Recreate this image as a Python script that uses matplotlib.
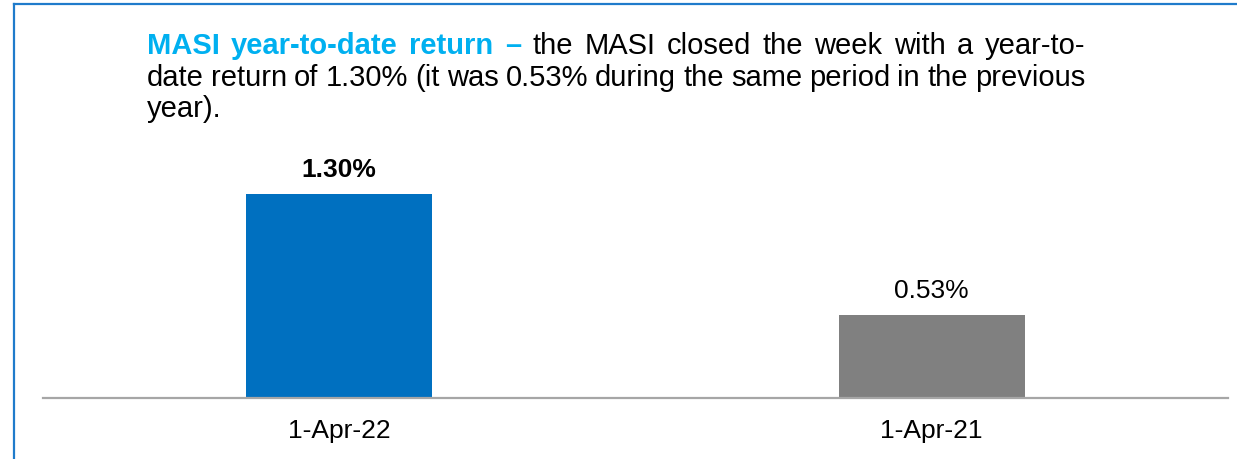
import matplotlib.pyplot as plt
from matplotlib.lines import Line2D

plt.rcParams['font.family'] = ['Liberation Sans', 'DejaVu Sans']

# data
dates = ["1-Apr-22", "1-Apr-21"]
ytd_return = [1.30, 0.53]
bar_colors = ["#0070C0", "#808080"]
label_weights = ["bold", "normal"]

title_bold = "MASI year-to-date return \u2013"
title_rest = "the MASI closed the week with a year-to-"
line2 = "date return of 1.30% (it was 0.53% during the same period in the previous"
line3 = "year)."

W, H = 1237, 459
fig = plt.figure(figsize=(W / 100, H / 100), dpi=100)

# axes placed in pixel terms
left, right, bottom, top = 43, 1228, 398, 160
ax = fig.add_axes([left / W, 1 - bottom / H, (right - left) / W, (bottom - top) / H])
bars = ax.bar(range(len(dates)), ytd_return, width=0.314, color=bar_colors)
ax.set_xlim(-0.5, 1.5)
ax.set_ylim(0, (bottom - top) / 157)
for s in ["top", "right", "left"]:
    ax.spines[s].set_visible(False)
ax.spines["bottom"].set_color("#A6A6A6")
ax.spines["bottom"].set_linewidth(1.6)
ax.set_yticks([])
ax.set_xticks(range(len(dates)))
ax.set_xticklabels(dates, fontsize=19)
ax.tick_params(axis="x", length=0, pad=15)
for b, v, w in zip(bars, ytd_return, label_weights):
    ax.annotate(f"{v:.2f}%", (b.get_x() + b.get_width() / 2, v),
                xytext=(0, 12), textcoords="offset points",
                ha="center", va="baseline", fontsize=19, fontweight=w)

# frame lines (top and left only)
fig.add_artist(Line2D([14 / W, 1], [1 - 4 / H, 1 - 4 / H], color="#1F7BCB", lw=1.6))
fig.add_artist(Line2D([14 / W, 14 / W], [1 - 4 / H, 0], color="#1F7BCB", lw=1.6))

# justified heading text
x0, x1 = 147, 1085
fs = 21
renderer = fig.canvas.get_renderer()


def place_line(words, ybase, justify=True):
    texts = []
    for word, weight, color in words:
        t = fig.text(0, 1 - ybase / H, word, fontsize=fs, fontweight=weight,
                     color=color, va="baseline", ha="left")
        texts.append(t)
    widths = [t.get_window_extent(renderer).width for t in texts]
    if justify and len(texts) > 1:
        gap = (x1 - x0 - sum(widths)) / (len(texts) - 1)
    else:
        gap = fs * 1.389 * 0.278
    x = x0
    for t, w in zip(texts, widths):
        t.set_x(x / W)
        x += w + gap


cyan = "#00B0F0"
words1 = [(w, "bold", cyan) for w in title_bold.split()] + \
         [(w, "normal", "black") for w in title_rest.split()]
place_line(words1, 54)
place_line([(w, "normal", "black") for w in line2.split()], 86)
place_line([(line3, "normal", "black")], 117, justify=False)

fig.savefig("out.png", dpi=100)
